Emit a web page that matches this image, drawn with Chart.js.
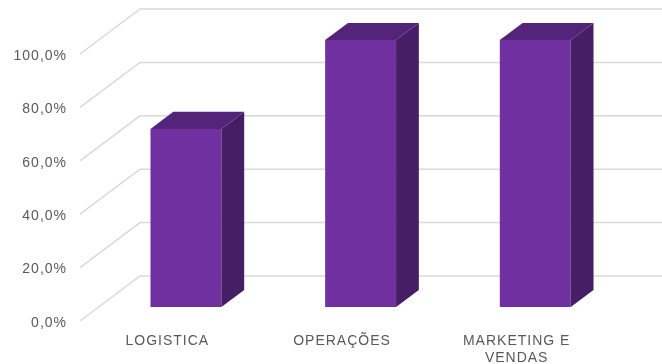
<!DOCTYPE html>
<html>
<head>
<meta charset="utf-8">
<script src="https://cdn.jsdelivr.net/npm/chart.js@4/dist/chart.umd.min.js"></script>
<style>
  html, body { margin: 0; padding: 0; background: #fff; }
  canvas { display: block; }
</style>
</head>
<body>
<canvas id="chart" width="662" height="364"></canvas>
<script>
const categories = ['LOGISTICA', 'OPERAÇÕES', ['MARKETING E', 'VENDAS']];
const values = [66.7, 100, 100];
const yMin = 0;
const yMax = 100;
const yStep = 20;

// floor depth of the 3d box, and where the bars sit inside it
const depthX = 60;
const depthY = 45;
const barFront = 0.31;
const barBack = 0.69;

const frontColor = '#7030A0';
const topColor = '#54247A';
const sideColor = '#451E65';
const gridColor = '#D9D9D9';

function setSpacing(chart) {
  chart.ctx.letterSpacing = '1px';
}

const fake3d = {
  id: 'fake3d',
  beforeLayout(chart) {
    setSpacing(chart);
  },
  beforeDraw(chart) {
    setSpacing(chart);
  },
  beforeDatasetsDraw(chart) {
    const ctx = chart.ctx;
    const area = chart.chartArea;
    const y = chart.scales.y;
    ctx.save();
    ctx.strokeStyle = gridColor;
    ctx.lineWidth = 1.5;
    y.ticks.forEach((t) => {
      const py = y.getPixelForValue(t.value);
      ctx.beginPath();
      ctx.moveTo(area.left, py);
      ctx.lineTo(area.left + depthX, py - depthY);
      ctx.lineTo(chart.width, py - depthY);
      ctx.stroke();
    });
    ctx.restore();
    // move the front faces into the middle of the floor depth
    ctx.save();
    ctx.translate(depthX * barFront, -depthY * barFront);
  },
  afterDatasetsDraw(chart) {
    const ctx = chart.ctx;
    const dx = depthX * (barBack - barFront);
    const dy = depthY * (barBack - barFront);
    chart.getDatasetMeta(0).data.forEach((bar) => {
      const { x, y, base, width } = bar.getProps(['x', 'y', 'base', 'width'], true);
      const xl = x - width / 2;
      const xr = x + width / 2;
      ctx.fillStyle = sideColor;
      ctx.beginPath();
      ctx.moveTo(xr, y);
      ctx.lineTo(xr + dx, y - dy);
      ctx.lineTo(xr + dx, base - dy);
      ctx.lineTo(xr, base);
      ctx.closePath();
      ctx.fill();
      ctx.fillStyle = topColor;
      ctx.beginPath();
      ctx.moveTo(xl, y);
      ctx.lineTo(xl + dx, y - dy);
      ctx.lineTo(xr + dx, y - dy);
      ctx.lineTo(xr, y);
      ctx.closePath();
      ctx.fill();
    });
    ctx.restore();
  },
};

new Chart(document.getElementById('chart'), {
  type: 'bar',
  data: {
    labels: categories,
    datasets: [
      {
        data: values,
        backgroundColor: frontColor,
        borderWidth: 0,
        categoryPercentage: 1,
        barPercentage: 0.406,
        clip: false,
      },
    ],
  },
  options: {
    responsive: false,
    animation: false,
    events: [],
    layout: { padding: { top: 54, right: 58, left: 0, bottom: 0 } },
    plugins: {
      legend: { display: false },
      tooltip: { enabled: false },
    },
    scales: {
      x: {
        grid: { display: false, drawTicks: false },
        border: { display: false },
        ticks: {
          color: '#595959',
          padding: 12,
          maxRotation: 0,
          autoSkip: false,
          font: { family: '"Liberation Sans", Arial, sans-serif', size: 14 },
        },
        afterFit(scale) {
          scale.height = 43;
        },
      },
      y: {
        min: yMin,
        max: yMax,
        grid: { display: false, drawTicks: false },
        border: { display: false },
        ticks: {
          stepSize: yStep,
          color: '#595959',
          padding: 13,
          labelOffset: 2,
          font: { family: '"Liberation Sans", Arial, sans-serif', size: 14 },
          callback: (v) => v.toFixed(1).replace('.', ',') + '%',
        },
        afterFit(scale) {
          scale.width = 80;
        },
      },
    },
  },
  plugins: [fake3d],
});
</script>
</body>
</html>
